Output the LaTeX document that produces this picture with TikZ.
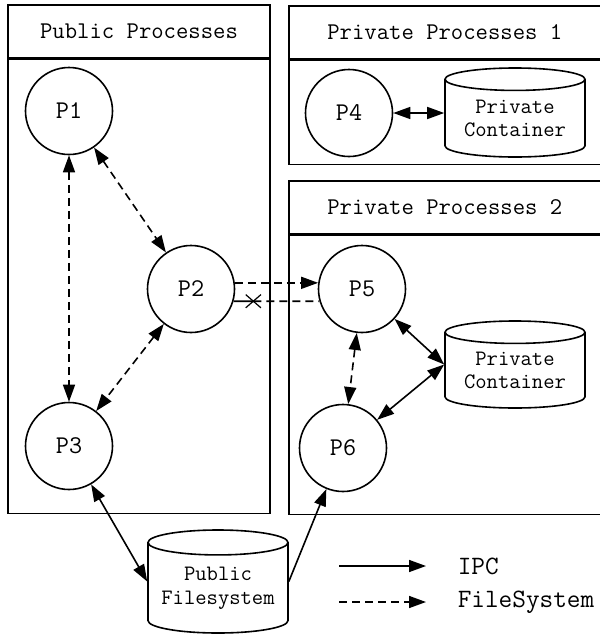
\documentclass[tikz,border=0pt]{standalone}
\usepackage{tikz}
\usetikzlibrary{shapes.geometric, shapes.misc, arrows.meta, positioning, calc}

\begin{document}
\begin{tikzpicture}[
        x=1pt, y=-1pt,
        line width=1.6pt,
        >={Triangle[length=17pt, width=12pt]},
        every node/.style={font=\ttfamily},
        header/.style={draw, rectangle, inner sep=0pt, font=\ttfamily\fontsize{24}{27}\selectfont},
        body/.style={draw, rectangle, inner sep=0pt},
        proc/.style={draw, circle, minimum size=87pt, inner sep=0pt, font=\ttfamily\fontsize{25.5}{28}\selectfont},
        store/.style={draw, cylinder, shape border rotate=90, aspect=0.22, minimum width=140pt, inner sep=0pt, align=center, anchor=shape center, font=\ttfamily\fontsize{22}{23.5}\selectfont},
        ipc/.style={<->},
        fsys/.style={<->, dash pattern=on 8pt off 5pt},
        legend/.style={anchor=west, inner sep=0pt, font=\ttfamily\fontsize{26.5}{29}\selectfont}
    ]
        \useasboundingbox (0,0) rectangle (600,635);
        \fill[white] (0,0) rectangle (600,635);

        % the three process groups
        \node[header, minimum width=262pt, minimum height=53pt] (pubhead) at (139,31.5) {Public Processes};
        \node[body, minimum width=262pt, minimum height=454pt, below=0pt of pubhead] (pubbody) {};
        \node[header, minimum width=312pt, minimum height=53pt, anchor=north west] (priv1head) at (288,5) {Private Processes 1};
        \node[body, minimum width=312pt, minimum height=104pt, below=0pt of priv1head] (priv1body) {};
        \node[header, minimum width=312pt, minimum height=53pt, anchor=north west] (priv2head) at (288,180) {Private Processes 2};
        \node[body, minimum width=312pt, minimum height=279pt, below=0pt of priv2head] (priv2body) {};

        % processes
        \node[proc] (P1) at (69,111) {P1};
        \node[proc] (P2) at (191,289) {P2};
        \node[proc] (P3) at (69,446) {P3};
        \node[proc] (P4) at (349,113) {P4};
        \node[proc] (P5) at (362,289) {P5};
        \node[proc] (P6) at (343,448) {P6};

        % storage
        \node[store, minimum height=89pt] (cont1) at (515,112.5) {Private\\Container};
        \node[store, minimum height=87pt] (cont2) at (515,364.5) {Private\\Container};
        \node[store, minimum height=103pt] (pubfs) at (218,581.5) {Public\\Filesystem};

        \draw[fsys] (P1) -- (P3);
        \draw[fsys] (P1) -- (P2);
        \draw[fsys] (P2) -- (P3);
        \draw[->, dash pattern=on 8pt off 5pt] (P2.8) -- (P5.172);
        \node[cross out, draw, minimum width=14pt, minimum height=12pt, inner sep=0pt, line width=1.2pt] (blk) at ($(P2.-16)!0.23!(P5.196)$) {};
        \draw (P2.-16) -- (blk.center);
        \draw[dash pattern=on 8pt off 5pt] (blk.center) -- (P5.196);
        \draw[ipc] (P4.east) -- (P4.east -| cont1.west);
        \draw[fsys] (P5) -- (P6);
        \draw[ipc] (P5) -- (cont2.west |- cont2.shape center);
        \draw[ipc] (P6) -- (cont2.west |- cont2.shape center);
        \draw[ipc] (P3) -- (pubfs.west |- pubfs.shape center);
        \draw[->] (pubfs.east |- pubfs.shape center) -- (P6);

        % legend
        \coordinate (ipcs) at (339,566);
        \coordinate (ipce) at (426,566);
        \coordinate (fss) at (339,602);
        \coordinate (fse) at (426,602);
        \node[legend] (ipclbl) at (457,566) {IPC};
        \node[legend] (fslbl) at (457,602) {FileSystem};
        \draw[->] (ipcs) -- (ipce);
        \draw[->, dash pattern=on 8pt off 5pt] (fss) -- (fse);
    \end{tikzpicture}
\end{document}
